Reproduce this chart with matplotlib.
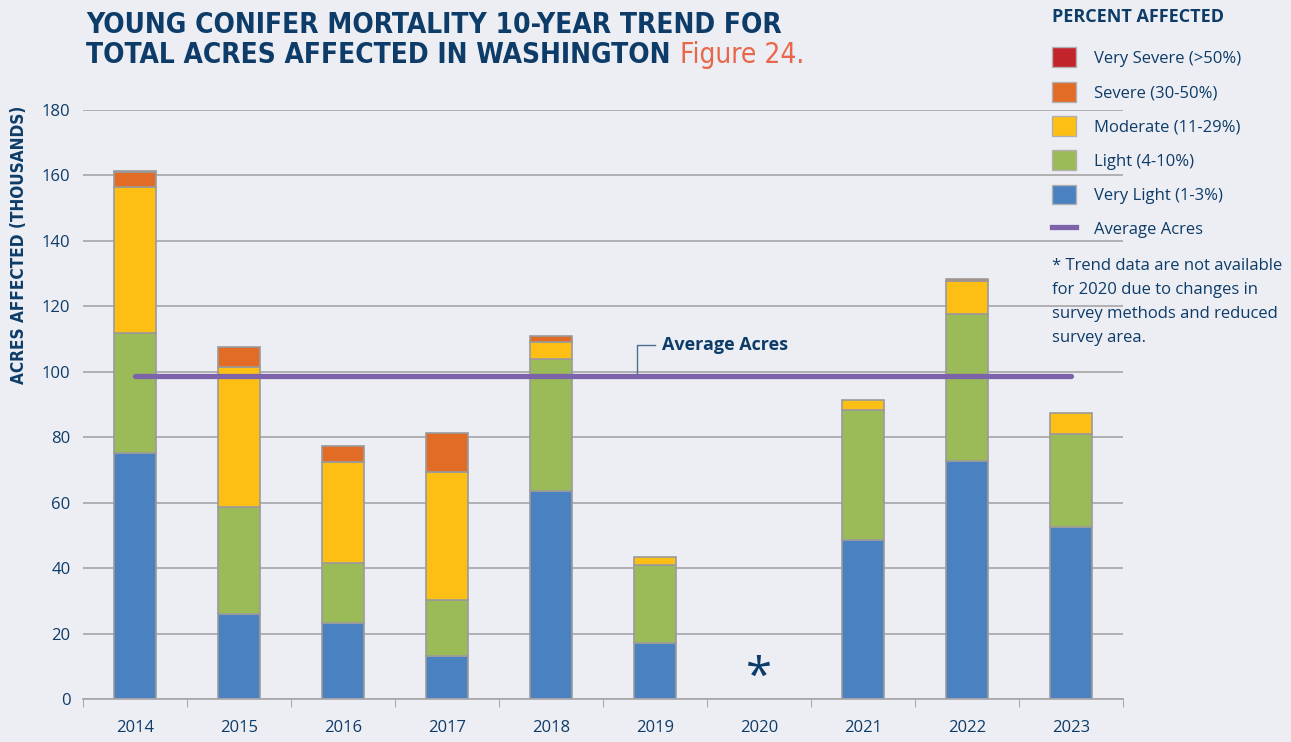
import os
import numpy as np
import matplotlib
matplotlib.use("Agg")
import matplotlib.pyplot as plt
from matplotlib.patches import Patch
from matplotlib.lines import Line2D
from matplotlib import font_manager
from matplotlib.font_manager import FontProperties

years = ['2014', '2015', '2016', '2017', '2018', '2019', '2020', '2021', '2022', '2023']
very_light = [75.2, 26.0, 23.2, 13.1, 63.6, 17.1, 0, 48.6, 72.7, 52.6]
light = [36.7, 32.7, 18.4, 17.2, 40.4, 23.9, 0, 39.6, 45.0, 28.4]
moderate = [44.6, 42.8, 30.7, 39.2, 5.1, 2.5, 0, 3.2, 10.1, 6.4]
severe = [4.6, 6.0, 5.0, 11.9, 1.8, 0, 0, 0, 0.6, 0]
very_severe = [0.3, 0, 0, 0, 0, 0, 0, 0, 0, 0]
average_acres = 98.8
series_names = ['Very Light (1-3%)', 'Light (4-10%)', 'Moderate (11-29%)',
                'Severe (30-50%)', 'Very Severe (>50%)']
yticks = [0, 20, 40, 60, 80, 100, 120, 140, 160, 180]

colors = ['#4a81c0', '#9bbb59', '#fdbf14', '#e26b25', '#c3242b']
navy = '#0d3c68'
bg = '#edeef4'


def narrow_font(bold):
    # look for an installed condensed / narrow face
    best = None
    for f in font_manager.fontManager.ttflist:
        n = os.path.basename(f.fname).lower()
        if not ('condensed' in n or 'narrow' in n):
            continue
        if 'italic' in n or 'oblique' in n or 'semi' in n or 'extra' in n:
            continue
        isbold = 'bold' in n
        if isbold == bold:
            best = f.fname
            break
    if best:
        return FontProperties(fname=best)
    return FontProperties(family='DejaVu Sans', weight='bold' if bold else 'normal')


fp_bold = narrow_font(True)
fp_reg = narrow_font(False)

plt.rcParams['font.family'] = ['Open Sans', 'DejaVu Sans']

fig = plt.figure(figsize=(12.91, 7.42), dpi=100, facecolor=bg)
ax = fig.add_axes([0.0643, 0.058, 0.8056, 0.7938], facecolor=bg)

x = np.arange(len(years))
bottom = np.zeros(len(years))
for vals, c in zip([very_light, light, moderate, severe, very_severe], colors):
    v = np.array(vals, dtype=float)
    h = np.where(v > 0, v, np.nan)
    ax.bar(x, h, 0.4, bottom=bottom, color=c, edgecolor='#9a9a9a', linewidth=1.2, zorder=2)
    bottom = bottom + v

# average line
ax.plot([x[0], x[-1]], [average_acres, average_acres], color='#7d63a9', lw=3.8,
        solid_capstyle='round', zorder=4)
lead_x = 4.83
ax.plot([lead_x, lead_x, 5.0], [average_acres, 108.3, 108.3], color='#4d6f8f', lw=1, zorder=3)
ax.text(5.07, 108.3, 'Average Acres', color=navy, fontsize=13, fontweight='bold',
        va='center', ha='left')

ax.text(6, 6.5, '*', color=navy, fontsize=34, ha='center', va='center')

ax.set_xlim(-0.5, 9.5)
ax.set_ylim(0, 180)
ax.set_yticks(yticks)
ax.set_xticks(x)
ax.set_xticklabels(years)
ax.set_xticks(np.arange(-0.5, 10, 1), minor=True)
ax.tick_params(axis='x', which='major', length=0, pad=15, labelsize=12, labelcolor=navy)
ax.tick_params(axis='x', which='minor', length=6, color='#9a9a9a', direction='out')
ax.tick_params(axis='y', length=0, pad=9, labelsize=12, labelcolor=navy)
ax.grid(axis='y', color='#a5a5a8', lw=1.2, zorder=0)
ax.set_axisbelow(True)
for s in ['left', 'right', 'top']:
    ax.spines[s].set_visible(False)
ax.spines['bottom'].set_color('#a5a5a8')
ax.spines['bottom'].set_linewidth(1.2)

ylab = fig.text(0.0145, 0.67, 'ACRES AFFECTED (THOUSANDS)', rotation=90, color=navy,
                fontproperties=fp_bold, fontsize=15, ha='center', va='center')

# title
t1 = fig.text(0.067, 0.9555, 'YOUNG CONIFER MORTALITY 10-YEAR TREND FOR', color=navy,
              fontproperties=fp_bold, fontsize=25, va='baseline')
t2 = fig.text(0.067, 0.915, 'TOTAL ACRES AFFECTED IN WASHINGTON ', color=navy,
              fontproperties=fp_bold, fontsize=25, va='baseline')
t3 = fig.text(0.6, 0.915, 'Figure 24.', color='#e8664a', fontproperties=fp_reg,
              fontsize=25, va='baseline')

# fit title and axis label widths to the reference layout
fig.canvas.draw()
r = fig.canvas.get_renderer()
scale = 695 / t1.get_window_extent(r).width
for t in (t1, t2, t3):
    t.set_fontsize(25 * min(scale, 1.0))
ylab.set_fontsize(15 * min(280 / ylab.get_window_extent(r).height, 1.0))
fig.canvas.draw()
bb = t2.get_window_extent(r)
t3.set_x(bb.x1 / fig.bbox.width)

# legend
fig.text(0.8149, 0.977, 'PERCENT AFFECTED', color=navy, fontsize=13, fontweight='bold',
         va='center', ha='left')
handles = [Patch(facecolor=c, edgecolor='#b0b0b0', label=n)
           for c, n in zip(colors[::-1], series_names[::-1])]
handles.append(Line2D([0], [0], color='#7d63a9', lw=3.8, label='Average Acres'))
leg = fig.legend(handles=handles, loc='upper left', bbox_to_anchor=(0.8149, 0.936),
                 frameon=False, fontsize=12, labelcolor=navy, handlelength=1.45,
                 handleheight=1.45, labelspacing=0.87, handletextpad=1.05,
                 borderpad=0, borderaxespad=0)

fig.text(0.8149, 0.652, '* Trend data are not available\nfor 2020 due to changes in\n'
         'survey methods and reduced\nsurvey area.', color=navy, fontsize=12,
         va='top', ha='left', linespacing=1.66)

fig.savefig('out.png', dpi=100, facecolor=bg)
